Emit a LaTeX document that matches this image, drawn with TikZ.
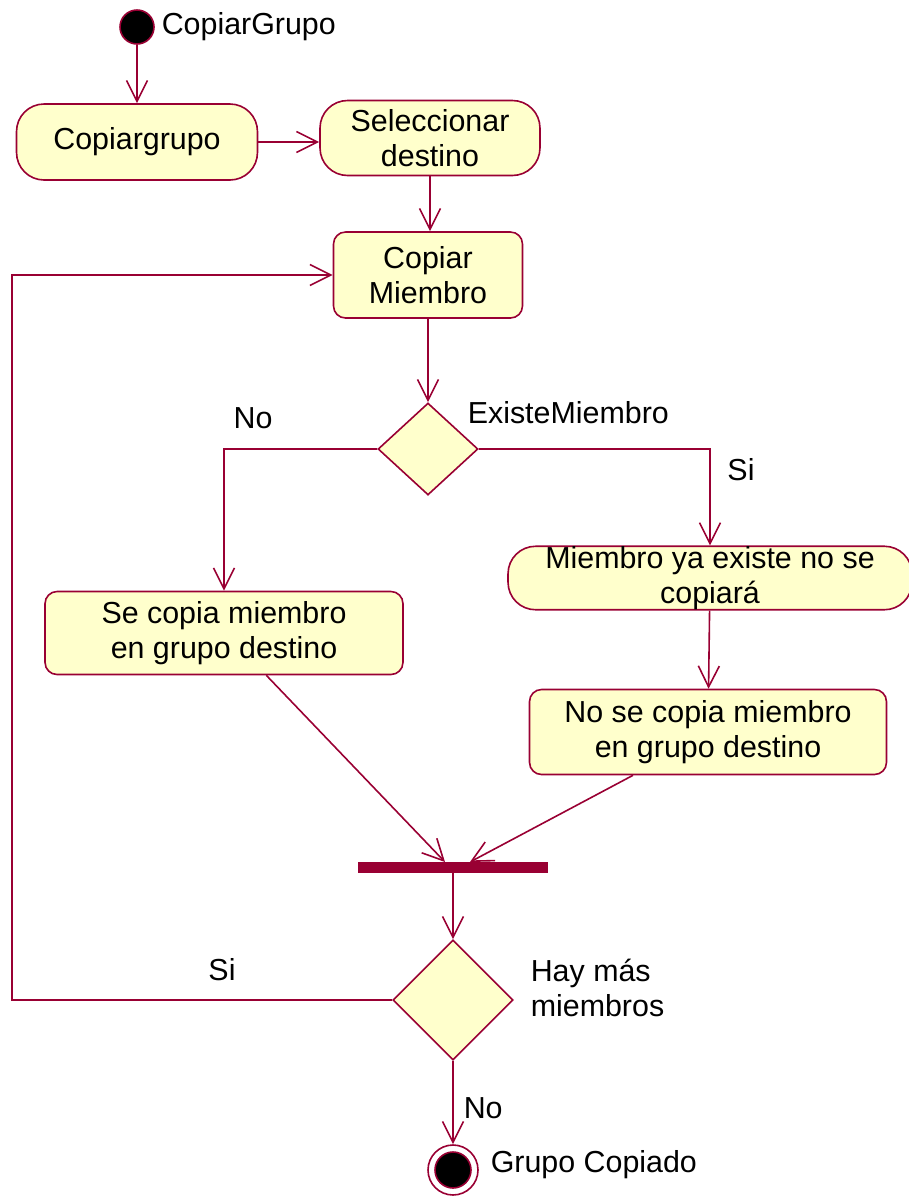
\documentclass[tikz,border=0pt]{standalone}
\usepackage{fontspec}
\setmainfont{Liberation Sans}
\usetikzlibrary{positioning, shapes.geometric, arrows.meta}
\definecolor{rose_line}{RGB}{153, 0, 51}
\definecolor{rose_fill}{RGB}{255, 255, 204}

\begin{document}
\begin{tikzpicture}[x=0.02cm, y=-0.02cm, line width=0.032cm,
    font=\fontsize{17.3}{20}\selectfont,
    actividad/.style={draw=rose_line, fill=rose_fill, rounded corners=0.55cm, align=center, inner sep=0pt},
    estado/.style={draw=rose_line, fill=rose_fill, rounded corners=0.24cm, align=center, inner sep=0pt},
    decision/.style={diamond, draw=rose_line, fill=rose_fill, inner sep=0pt},
    flujo/.style={draw=rose_line, -{Straight Barb[length=0.42cm, width=0.42cm]}},
    etiqueta/.style={inner sep=0pt}]

      \useasboundingbox (0,0) rectangle (909,1198);

      % 1. Inicio
      \node[circle, fill=black, draw=rose_line, minimum size=0.68cm, inner sep=0pt] (inicio) at (137,27) {};
      \node[etiqueta, anchor=west] (tinicio) at (161,27) {CopiarGrupo};

      % 2. Actividades
      \node[actividad, minimum width=4.82cm, minimum height=1.52cm] (copiar) at (137,142) {Copiargrupo};
      \node[actividad, minimum width=4.4cm, minimum height=1.5cm] (selec) at (430,138) {Seleccionar\\destino};
      \node[estado, minimum width=3.78cm, minimum height=1.72cm] (miembro) at (428,275) {Copiar\\Miembro};

      % Decision 1
      \node[decision, minimum width=2cm, minimum height=1.84cm] (existe) at (428,449) {};
      \node[etiqueta, anchor=west] (texiste) at (467,413) {ExisteMiembro};

      \node[estado, minimum width=7.16cm, minimum height=1.66cm] (secopia) at (224,633) {Se copia miembro\\en grupo destino};
      \node[actividad, minimum width=8.08cm, minimum height=1.26cm] (yaexiste) at (710,578) {Miembro ya existe no se\\copiará};
      \node[estado, minimum width=7.14cm, minimum height=1.7cm] (nocopia) at (708,732) {No se copia miembro\\en grupo destino};

      % 3. Sincronizacion
      \node[fill=rose_line, minimum width=3.82cm, minimum height=0.22cm, inner sep=0pt] (barra) at (453,867) {};
      \coordinate (barra1) at (445,862);
      \coordinate (barra2) at (470,862);

      % Decision 2
      \node[decision, minimum width=2.4cm, minimum height=2.4cm] (hay) at (453,1000) {};
      \node[etiqueta, anchor=west, align=left] (thay) at (530,988) {Hay más\\miembros};

      % 4. Final
      \node[circle, draw=rose_line, minimum size=1cm, inner sep=0pt] (fin) at (453,1170) {};
      \node[circle, fill=black, draw=rose_line, minimum size=0.72cm, inner sep=0pt] (finin) at (fin.center) {};
      \node[etiqueta, anchor=west] (tfin) at (490,1165) {Grupo Copiado};

      % 5. Flujos
      \draw[flujo] (inicio) -- (copiar);
      \draw[flujo] (copiar) -- (copiar -| selec.west);
      \draw[flujo] (selec) -- (selec |- miembro.north);
      \draw[flujo] (miembro) -- (existe);
      \draw[flujo] (existe.west) -| (secopia.north);
      \draw[flujo] (existe.east) -| (yaexiste.north);
      \draw[flujo] (yaexiste) -- (nocopia);
      \draw[flujo] (secopia.-45) -- (barra1);
      \draw[flujo] (nocopia.-150) -- (barra2);
      \draw[flujo] (barra) -- (hay);
      \coordinate (vuelta) at (12,1000);
      \draw[flujo] (hay.west) -- (vuelta) |- (miembro.west);
      \draw[flujo] (hay) -- (fin);

      % Guardas
      \node[etiqueta] (no1) at (253,418) {No};
      \node[etiqueta] (si1) at (741,470) {Si};
      \node[etiqueta] (si2) at (222,970) {Si};
      \node[etiqueta, anchor=west] (no2) at (463,1108) {No};

    \end{tikzpicture}
\end{document}
